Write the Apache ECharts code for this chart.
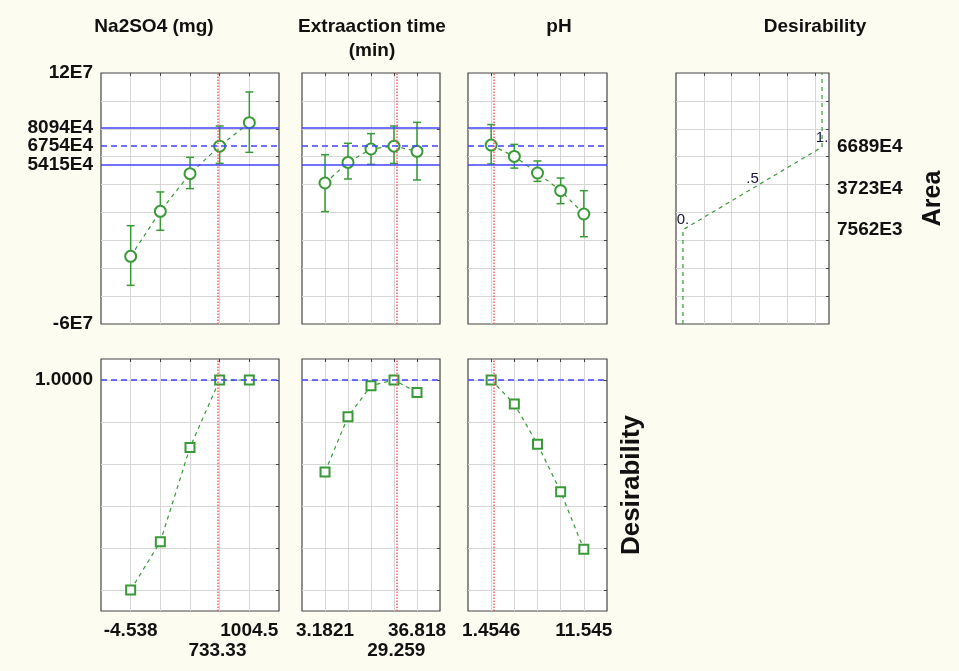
<!DOCTYPE html>
<html><head><meta charset="utf-8">
<script src="https://cdn.jsdelivr.net/npm/echarts@6/dist/echarts.min.js"></script>
<style>html,body{margin:0;padding:0;background:#fdfcf0}#c{width:959px;height:671px}</style>
</head><body><div id="c"></div>
<script>
// ---------- DATA ----------
// factor levels (x) of each profile
const naLevels   = [-4.538, 247.72, 499.98, 752.24, 1004.5];
const timeLevels = [3.1821, 11.591, 20.0, 28.409, 36.818];
const phLevels   = [1.4546, 3.9772, 6.4998, 9.0224, 11.545];
// current (optimal) settings
const naCurrent = 733.33, timeCurrent = 29.259, phCurrent = 1.75;

// predicted Area with confidence limits
const naArea   = [-11.5e6, 20.8e6, 47.8e6, 67.54e6, 84.4e6];
const naHigh   = [10.5e6, 34.7e6, 59.5e6, 82.0e6, 106.4e6];
const naLow    = [-32.3e6, 7.2e6, 37.1e6, 55.2e6, 63.1e6];
const timeArea = [41.1e6, 55.9e6, 65.5e6, 67.54e6, 63.8e6];
const timeHigh = [61.4e6, 69.6e6, 76.5e6, 82.0e6, 84.6e6];
const timeLow  = [20.6e6, 44.0e6, 54.5e6, 55.2e6, 43.3e6];
const phArea   = [68.3e6, 60.2e6, 48.3e6, 35.6e6, 18.9e6];
const phHigh   = [83.0e6, 68.8e6, 56.9e6, 44.7e6, 35.6e6];
const phLow    = [54.8e6, 51.8e6, 42.3e6, 26.3e6, 2.6e6];

// desirability of each level
const naDes   = [0, 0.23, 0.679, 1, 1];
const timeDes = [0.562, 0.825, 0.973, 1, 0.941];
const phDes   = [1, 0.886, 0.694, 0.468, 0.194];

// reference lines on Area
const areaUpper = 80.94e6, areaTarget = 67.54e6, areaLower = 54.15e6;

// desirability function of Area
const desFuncX     = [0, 0, 0.5, 1, 1];
const desFuncArea  = [-6e7, 7.562e6, 37.23e6, 66.89e6, 12e7];
const desFuncLabel = ['', '0.', '.5', '1.', ''];

// tick labels
const areaTickValues = [12e7, 80.94e6, 67.54e6, 54.15e6, -6e7];
const areaTickLabels = ['12E7', '8094E4', '6754E4', '5415E4', '-6E7'];
const desAreaTickValues = [66.89e6, 37.23e6, 7.562e6];
const desAreaTickLabels = ['6689E4', '3723E4', '7562E3'];
const desTickValues = [1.0];
const desTickLabels = ['1.0000'];
const naTickValues = [-4.538, 1004.5];
const naTickLabels = ['-4.538', '1004.5'];
const naCurLabel = '733.33';
const timeTickValues = [3.1821, 36.818];
const timeTickLabels = ['3.1821', '36.818'];
const timeCurLabel = '29.259';
const phTickValues = [1.4546, 11.545];
const phTickLabels = ['1.4546', '11.545'];
const phCurLabel = '';

// grid-line positions
const areaGrid = [-4e7, -2e7, 0, 2e7, 4e7, 6e7, 8e7, 10e7];
const desGrid = [0, 0.2, 0.4, 0.6, 0.8, 1.0];
const desFuncGrid = [0.15, 0.35, 0.55, 0.75, 0.95];

// ---------- LAYOUT / STYLE ----------
const GREEN = '#379a37', BLUE = '#4343ff', RED = '#ff5a5a';
const FONT = '"Liberation Sans", Arial, sans-serif';
const labelStyle = {fontFamily: FONT, fontWeight: 'bold', fontSize: 19, color: '#111'};
const panels = [
  {levels: naLevels, cur: naCurrent, curLabel: naCurLabel, min: -256.8, max: 1256.8, area: naArea, hi: naHigh, lo: naLow, des: naDes,
   tv: naTickValues, tl: naTickLabels, left: 101, width: 178},
  {levels: timeLevels, cur: timeCurrent, curLabel: timeCurLabel, min: -5.227, max: 45.227, area: timeArea, hi: timeHigh, lo: timeLow, des: timeDes,
   tv: timeTickValues, tl: timeTickLabels, left: 302, width: 138},
  {levels: phLevels, cur: phCurrent, curLabel: phCurLabel, min: -1.068, max: 14.068, area: phArea, hi: phHigh, lo: phLow, des: phDes,
   tv: phTickValues, tl: phTickLabels, left: 468, width: 139}
];
const TOP1 = 73, H1 = 251, TOP2 = 359, H2 = 252;

const grids = [], xAxes = [], yAxes = [], series = [];
const gridLine = {show: true, lineStyle: {color: '#d6d6d6', width: 1}};
const noLine = {show: false, onZero: false};
function lookup(vals, labs) { return v => { const i = vals.indexOf(v); return i < 0 ? '' : labs[i]; }; }

function addGrid(left, top, width, height) {
  grids.push({left, top, width, height, show: true, backgroundColor: '#ffffff', borderColor: '#454545', borderWidth: 1.2, containLabel: false});
  return grids.length - 1;
}
function addX(g, min, max, gridVals, label, extra) {
  const idx = xAxes.length;
  xAxes.push({gridIndex: g, type: 'value', min, max, position: 'bottom',
    axisLine: noLine, axisTick: {show: false, customValues: gridVals}, splitLine: gridLine,
    axisLabel: label || {show: false}});
  xAxes.push({gridIndex: g, type: 'value', min, max, position: 'top',
    axisLine: noLine, splitLine: {show: false}, axisLabel: {show: false},
    axisTick: {show: true, inside: true, length: 3, customValues: gridVals, lineStyle: {color: '#444'}}});
  if (extra) {
    xAxes.push({gridIndex: g, type: 'value', min, max, position: 'bottom', offset: 20,
      axisLine: noLine, axisTick: {show: false}, splitLine: {show: false}, axisLabel: extra});
  }
  return idx;
}
function addY(g, min, max, gridVals, label, right) {
  const idx = yAxes.length;
  yAxes.push({gridIndex: g, type: 'value', min, max, position: 'left',
    axisLine: noLine, axisTick: {show: false, customValues: gridVals}, splitLine: gridLine,
    axisLabel: label || {show: false}});
  yAxes.push(Object.assign({gridIndex: g, type: 'value', min, max, position: 'right',
    axisLine: noLine, splitLine: {show: false},
    axisTick: {show: true, inside: true, length: 3, customValues: gridVals, lineStyle: {color: '#444'}},
    axisLabel: {show: false}}, right || {}));
  return idx;
}

function errorSeries(xi, yi, xs, lo, hi) {
  return {type: 'custom', xAxisIndex: xi, yAxisIndex: yi, silent: true, z: 3,
    data: xs.map((x, i) => [x, lo[i], hi[i]]),
    encode: {x: 0, y: [1, 2]},
    renderItem(params, api) {
      const x = api.value(0);
      const a = api.coord([x, api.value(1)]);
      const b = api.coord([x, api.value(2)]);
      const w = 4, st = {stroke: GREEN, lineWidth: 1.5};
      return {type: 'group', children: [
        {type: 'line', shape: {x1: a[0], y1: a[1], x2: b[0], y2: b[1]}, style: st},
        {type: 'line', shape: {x1: a[0] - w, y1: a[1], x2: a[0] + w, y2: a[1]}, style: st},
        {type: 'line', shape: {x1: b[0] - w, y1: b[1], x2: b[0] + w, y2: b[1]}, style: st}
      ]};
    }};
}

const redLine = v => ({xAxis: v, lineStyle: {color: RED, type: 'dotted', width: 1.5}});
const blueSolid = v => ({yAxis: v, lineStyle: {color: BLUE, type: 'solid', width: 1.5}});
const blueDash = v => ({yAxis: v, lineStyle: {color: BLUE, type: [6, 4], width: 1.5}});

panels.forEach((p, k) => {
  // top panel: Area profile
  const gt = addGrid(p.left, TOP1, p.width, H1);
  const xt = addX(gt, p.min, p.max, p.levels);
  const yt = addY(gt, -6e7, 12e7, areaGrid, k === 0 ? Object.assign({show: true, margin: 8,
      customValues: areaTickValues, formatter: lookup(areaTickValues, areaTickLabels)}, labelStyle) : null);
  series.push(errorSeries(xt, yt, p.levels, p.lo, p.hi));
  series.push({type: 'line', xAxisIndex: xt, yAxisIndex: yt, z: 4,
    data: p.levels.map((x, i) => [x, p.area[i]]),
    symbol: 'emptyCircle', symbolSize: 11,
    itemStyle: {color: GREEN, borderWidth: 1.3},
    lineStyle: {color: GREEN, width: 1.2, type: [4, 4]},
    markLine: {silent: true, symbol: 'none', label: {show: false}, animation: false,
      data: [redLine(p.cur), blueSolid(areaUpper), blueSolid(areaLower), blueDash(areaTarget)]}});

  // bottom panel: desirability profile
  const gb = addGrid(p.left, TOP2, p.width, H2);
  const xb = addX(gb, p.min, p.max, p.levels,
    Object.assign({show: true, margin: 10, customValues: p.tv, formatter: lookup(p.tv, p.tl)}, labelStyle),
    p.curLabel ? Object.assign({show: true, margin: 10, customValues: [p.cur], formatter: () => p.curLabel}, labelStyle) : null);
  const yb = addY(gb, -0.1, 1.1, desGrid, k === 0 ? Object.assign({show: true, margin: 8,
      customValues: desTickValues, formatter: lookup(desTickValues, desTickLabels)}, labelStyle) : null,
    k === 2 ? {name: 'Desirability', nameLocation: 'middle', nameRotate: 90, nameGap: 12,
      nameTextStyle: {fontFamily: FONT, fontWeight: 'bold', fontSize: 26, color: '#111'}} : null);
  series.push({type: 'line', xAxisIndex: xb, yAxisIndex: yb, z: 4,
    data: p.levels.map((x, i) => [x, p.des[i]]),
    symbol: 'emptyRect', symbolSize: 9,
    itemStyle: {color: GREEN, borderWidth: 1.3},
    lineStyle: {color: GREEN, width: 1.2, type: [4, 4]},
    markLine: {silent: true, symbol: 'none', label: {show: false}, animation: false,
      data: [redLine(p.cur), blueDash(1.0)]}});
});

// desirability function panel
const gd = addGrid(676, TOP1, 153, H1);
const xd = addX(gd, -0.05, 1.05, desFuncGrid);
const yd = addY(gd, -6e7, 12e7, areaGrid, null, {
  axisLabel: Object.assign({show: true, margin: 8, customValues: desAreaTickValues,
    formatter: lookup(desAreaTickValues, desAreaTickLabels)}, labelStyle),
  name: 'Area', nameLocation: 'middle', nameRotate: 90, nameGap: 92,
  nameTextStyle: {fontFamily: FONT, fontWeight: 'bold', fontSize: 25, color: '#111'}});
series.push({type: 'line', xAxisIndex: xd, yAxisIndex: yd, z: 4,
  data: desFuncX.map((x, i) => [x, desFuncArea[i]]),
  symbol: 'circle', symbolSize: 0.01, showSymbol: true,
  itemStyle: {color: GREEN},
  lineStyle: {color: GREEN, width: 1.2, type: [4, 4]},
  label: {show: true, position: 'top', distance: 2, fontFamily: FONT, fontSize: 15, color: '#161636',
    formatter: p => desFuncLabel[p.dataIndex]}});

const titleFont = 'bold 19px ' + FONT;
const mkText = (x, y, t) => ({type: 'text', x, y, silent: true,
  style: {text: t, font: titleFont, fill: '#111', textAlign: 'center', textVerticalAlign: 'middle', align: 'center', verticalAlign: 'middle'}});

const chart = echarts.init(document.getElementById('c'), null, {renderer: 'canvas'});
chart.setOption({
  backgroundColor: '#fdfcf0',
  animation: false,
  grid: grids, xAxis: xAxes, yAxis: yAxes, series,
  graphic: [mkText(154, 26.5, 'Na2SO4 (mg)'), mkText(372, 27, 'Extraaction time'), mkText(372, 51, '(min)'),
            mkText(559, 27, 'pH'), mkText(815, 27, 'Desirability')]
});
</script></body></html>
